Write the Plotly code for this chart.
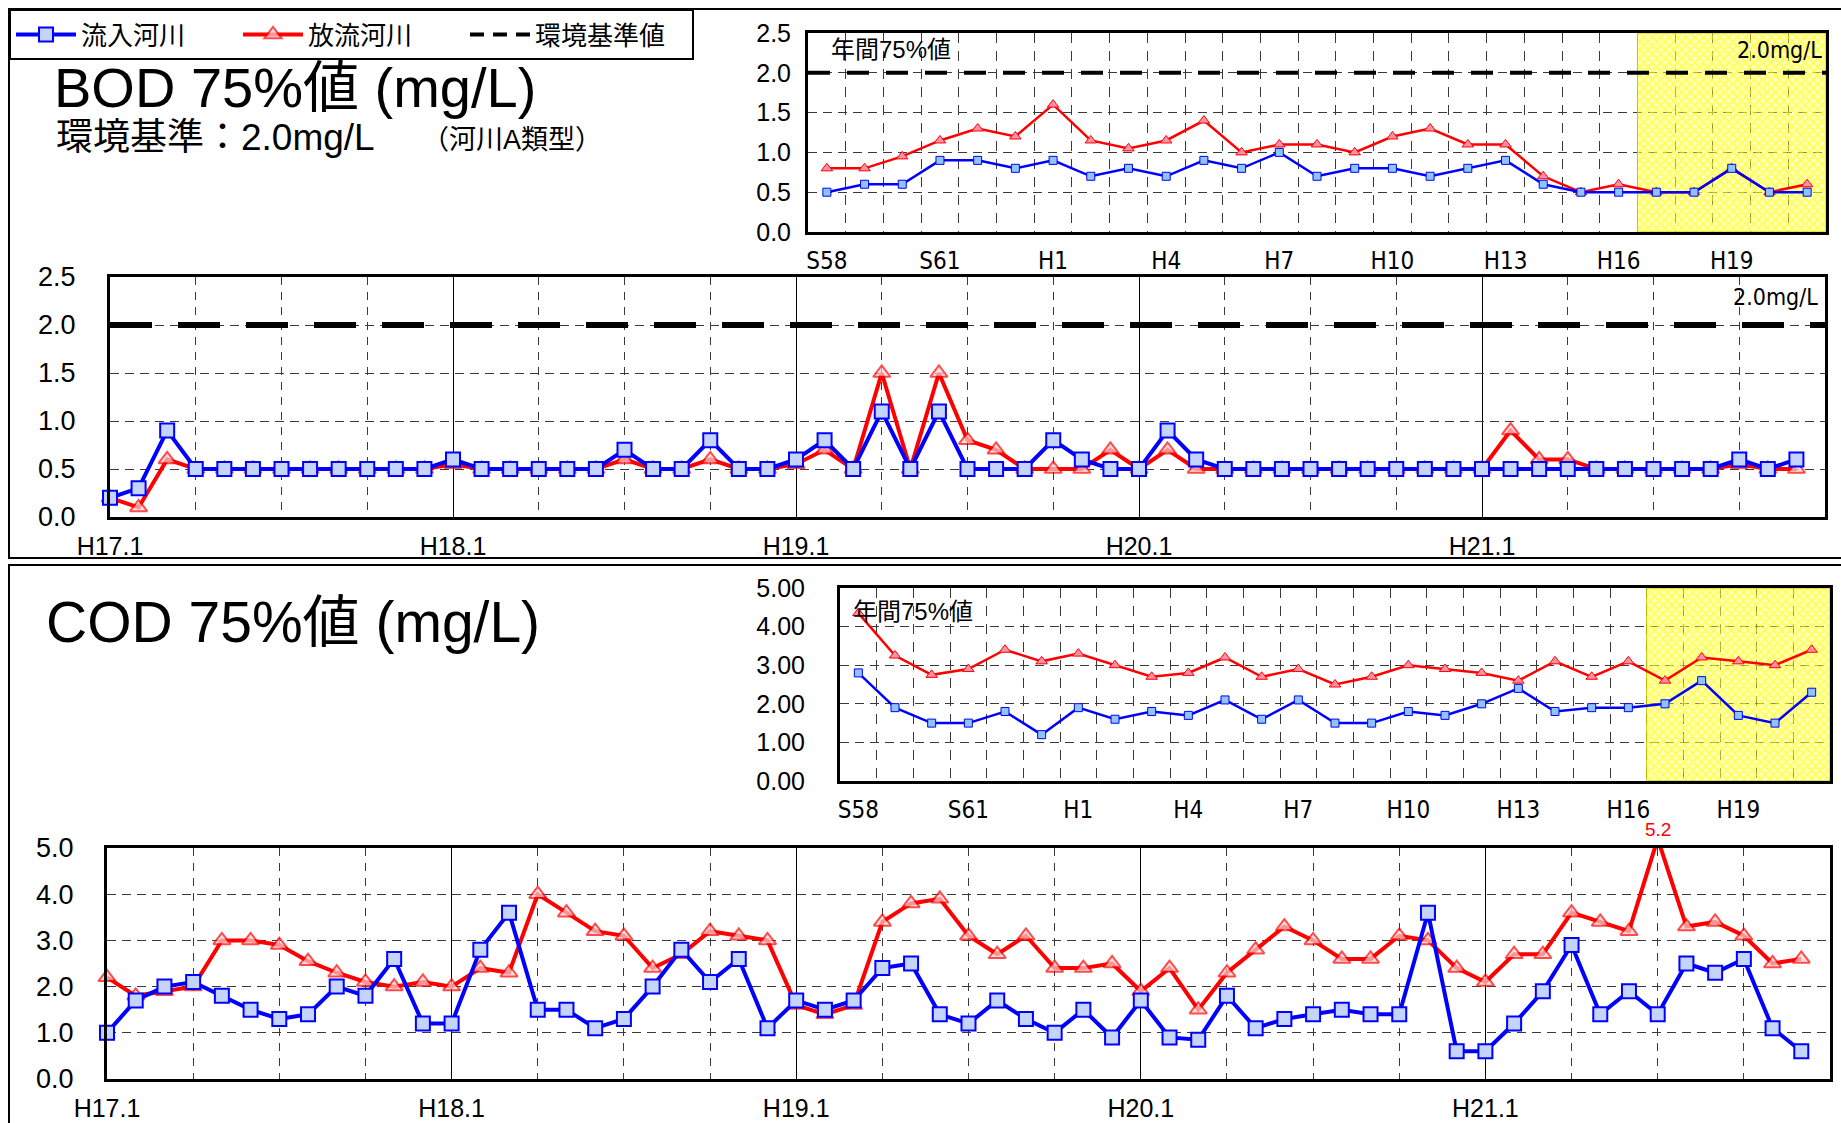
import plotly.graph_objects as go

# ---------------- data ----------------
# annual 75% values, S58 .. H21
year_labels = ["S58", "S59", "S60", "S61", "S62", "S63",
               "H1", "H2", "H3", "H4", "H5", "H6", "H7", "H8", "H9", "H10",
               "H11", "H12", "H13", "H14", "H15", "H16", "H17", "H18", "H19", "H20", "H21"]
bod_year_in = [0.5, 0.6, 0.6, 0.9, 0.9, 0.8, 0.9, 0.7, 0.8, 0.7, 0.9, 0.8, 1.0, 0.7,
               0.8, 0.8, 0.7, 0.8, 0.9, 0.6, 0.5, 0.5, 0.5, 0.5, 0.8, 0.5, 0.5]
bod_year_out = [0.8, 0.8, 0.95, 1.15, 1.3, 1.2, 1.6, 1.15, 1.05, 1.15, 1.4, 1.0, 1.1, 1.1,
                1.0, 1.2, 1.3, 1.1, 1.1, 0.7, 0.5, 0.6, 0.5, 0.5, 0.8, 0.5, 0.6]
cod_year_in = [2.8, 1.9, 1.5, 1.5, 1.8, 1.2, 1.9, 1.6, 1.8, 1.7, 2.1, 1.6, 2.1, 1.5,
               1.5, 1.8, 1.7, 2.0, 2.4, 1.8, 1.9, 1.9, 2.0, 2.6, 1.7, 1.5, 2.3]
cod_year_out = [4.35, 3.25, 2.75, 2.9, 3.4, 3.1, 3.3, 3.0, 2.7, 2.8, 3.2, 2.7, 2.9, 2.5,
                2.7, 3.0, 2.9, 2.8, 2.6, 3.1, 2.7, 3.1, 2.6, 3.2, 3.1, 3.0, 3.4]
year_tick_step = 3
highlight_first = "H17"   # shaded period of the annual charts

# monthly values, H17.1 .. H21.12
month_year_labels = ["H17.1", "H18.1", "H19.1", "H20.1", "H21.1"]
bod_month_in = [0.2, 0.3, 0.9, 0.5, 0.5, 0.5, 0.5, 0.5, 0.5, 0.5, 0.5, 0.5,
                0.6, 0.5, 0.5, 0.5, 0.5, 0.5, 0.7, 0.5, 0.5, 0.8, 0.5, 0.5,
                0.6, 0.8, 0.5, 1.1, 0.5, 1.1, 0.5, 0.5, 0.5, 0.8, 0.6, 0.5,
                0.5, 0.9, 0.6, 0.5, 0.5, 0.5, 0.5, 0.5, 0.5, 0.5, 0.5, 0.5,
                0.5, 0.5, 0.5, 0.5, 0.5, 0.5, 0.5, 0.5, 0.5, 0.6, 0.5, 0.6]
bod_month_out = [0.2, 0.1, 0.6, 0.5, 0.5, 0.5, 0.5, 0.5, 0.5, 0.5, 0.5, 0.5,
                 0.55, 0.5, 0.5, 0.5, 0.5, 0.5, 0.6, 0.5, 0.5, 0.6, 0.5, 0.5,
                 0.55, 0.7, 0.5, 1.5, 0.5, 1.5, 0.8, 0.7, 0.5, 0.5, 0.5, 0.7,
                 0.5, 0.7, 0.5, 0.5, 0.5, 0.5, 0.5, 0.5, 0.5, 0.5, 0.5, 0.5,
                 0.5, 0.9, 0.6, 0.6, 0.5, 0.5, 0.5, 0.5, 0.5, 0.55, 0.5, 0.5]
cod_month_in = [1.0, 1.7, 2.0, 2.1, 1.8, 1.5, 1.3, 1.4, 2.0, 1.8, 2.6, 1.2,
                1.2, 2.8, 3.6, 1.5, 1.5, 1.1, 1.3, 2.0, 2.8, 2.1, 2.6, 1.1,
                1.7, 1.5, 1.7, 2.4, 2.5, 1.4, 1.2, 1.7, 1.3, 1.0, 1.5, 0.9,
                1.7, 0.9, 0.85, 1.8, 1.1, 1.3, 1.4, 1.5, 1.4, 1.4, 3.6, 0.6,
                0.6, 1.2, 1.9, 2.9, 1.4, 1.9, 1.4, 2.5, 2.3, 2.6, 1.1, 0.6]
cod_month_out = [2.2, 1.8, 1.9, 2.0, 3.0, 3.0, 2.9, 2.55, 2.3, 2.1, 2.0, 2.1,
                 2.0, 2.4, 2.3, 4.0, 3.6, 3.2, 3.1, 2.4, 2.7, 3.2, 3.1, 3.0,
                 1.6, 1.4, 1.6, 3.4, 3.8, 3.9, 3.1, 2.7, 3.1, 2.4, 2.4, 2.5,
                 1.9, 2.4, 1.5, 2.3, 2.8, 3.3, 3.0, 2.6, 2.6, 3.1, 3.0, 2.4,
                 2.1, 2.7, 2.7, 3.6, 3.4, 3.2, 5.2, 3.3, 3.4, 3.1, 2.5, 2.6]

bod_standard = 2.0
series_names = ["流入河川", "放流河川", "環境基準値"]

# ---------------- styling ----------------
W, H = 1841, 1123
FONT = "Liberation Sans, Noto Sans CJK JP, sans-serif"
NARROW = "Liberation Sans Narrow, DejaVu Sans Condensed, Liberation Sans, Noto Sans CJK JP, sans-serif"
BLUE, RED = "#0000FF", "#FF0000"
GRID = "#3a3a3a"
BOD_TOP, COD_TOP = 2.5, 5.0


def px_x(a, b):
    return [a / W, b / W]


def px_y(top, bottom):
    return [1 - bottom / H, 1 - top / H]


n_year = len(year_labels)
n_month = len(bod_month_in)
yx = list(range(n_year))
mx = list(range(n_month))
hl_start = year_labels.index(highlight_first)

fig = go.Figure()


def add_year_series(xa, ya, vin, vout):
    fig.add_trace(go.Scatter(
        x=yx, y=vout, xaxis=xa, yaxis=ya, mode="lines+markers", showlegend=False,
        name=series_names[1], line=dict(color=RED, width=2.5),
        marker=dict(symbol="triangle-up", size=10, color="#FF8FA6",
                    line=dict(color=RED, width=1))))
    fig.add_trace(go.Scatter(
        x=yx, y=vin, xaxis=xa, yaxis=ya, mode="lines+markers", showlegend=False,
        name=series_names[0], line=dict(color=BLUE, width=2.5),
        marker=dict(symbol="square", size=8, color="#8EC4F6",
                    line=dict(color=BLUE, width=1))))


def add_month_series(xa, ya, vin, vout, legend, ymax):
    # points beyond the axis top get no marker
    sizes = [0 if v > ymax else 15 for v in vout]
    fig.add_trace(go.Scatter(
        x=mx, y=vout, xaxis=xa, yaxis=ya, mode="lines+markers", showlegend=legend,
        legendrank=2, name=series_names[1], cliponaxis=False,
        line=dict(color=RED, width=4),
        marker=dict(symbol="triangle-up", size=sizes, color="#FBD3D3",
                    line=dict(color=RED, width=2))))
    fig.add_trace(go.Scatter(
        x=mx, y=vin, xaxis=xa, yaxis=ya, mode="lines+markers", showlegend=legend,
        legendrank=1, name=series_names[0], cliponaxis=False,
        line=dict(color=BLUE, width=4),
        marker=dict(symbol="square", size=14, color="#C4D4FC",
                    line=dict(color=BLUE, width=2))))
    # value label for points above the axis top
    for i, v in enumerate(vout):
        if v > ymax:
            fig.add_annotation(x=i, y=v / ymax, xref=xa, yref=f"{ya} domain",
                               text=f"{v:.1f}", showarrow=False, yshift=22,
                               font=dict(color=RED, size=19, family=FONT))


# environmental standard (BOD)
fig.add_trace(go.Scatter(
    x=[-0.5, n_year - 0.5], y=[bod_standard] * 2, xaxis="x", yaxis="y", mode="lines",
    showlegend=False, name=series_names[2],
    line=dict(color="black", width=4, dash="22px,17px")))
fig.add_trace(go.Scatter(
    x=[0, n_month], y=[bod_standard] * 2, xaxis="x2", yaxis="y2", mode="lines",
    showlegend=False, name=series_names[2], cliponaxis=False,
    line=dict(color="black", width=6, dash="42px,26px")))
# legend entry for the standard line
fig.add_trace(go.Scatter(
    x=[None], y=[None], xaxis="x2", yaxis="y2", mode="lines", showlegend=True,
    legendrank=3, name=series_names[2], line=dict(color="black", width=4, dash="14px,9px")))

add_year_series("x", "y", bod_year_in, bod_year_out)
add_month_series("x2", "y2", bod_month_in, bod_month_out, True, BOD_TOP)
add_year_series("x3", "y3", cod_year_in, cod_year_out)
add_month_series("x4", "y4", cod_month_in, cod_month_out, False, COD_TOP)

# hatched highlight of the recent years (drawn over the lines)
hl_width = n_year - hl_start
for xa, ya, top in (("x", "y", BOD_TOP), ("x3", "y3", COD_TOP)):
    fig.add_trace(go.Bar(
        x=[hl_start - 0.5 + hl_width / 2], y=[top], width=[hl_width], base=0,
        xaxis=xa, yaxis=ya, showlegend=False, hoverinfo="skip",
        marker=dict(color="rgba(255,255,0,0.5)",
                    line=dict(color="#C8C800", width=1),
                    pattern=dict(shape="x", fgcolor="#FFFF00",
                                 bgcolor="rgba(255,255,110,0.4)",
                                 size=6, solidity=0.6, fillmode="overlay"))))


def year_xaxis(domain, anchor):
    return dict(domain=domain, anchor=anchor, range=[-0.5, n_year - 0.5],
                tickmode="array", tickvals=yx[::year_tick_step],
                ticktext=year_labels[::year_tick_step], automargin=False,
                showgrid=False, zeroline=False, showline=True, linewidth=3,
                linecolor="black", mirror=True, ticks="",
                tickfont=dict(family=NARROW, size=24, color="black"),
                ticklabelstandoff=5,
                minor=dict(tickmode="array", tickvals=[k + 0.5 for k in range(n_year - 1)],
                           showgrid=True, gridcolor=GRID, gridwidth=1, griddash="10px,8px"))


def month_xaxis(domain, anchor):
    return dict(domain=domain, anchor=anchor, range=[0, n_month],
                tickmode="array", tickvals=list(range(0, n_month, 12)),
                ticktext=month_year_labels, automargin=False,
                showgrid=True, gridcolor="black", gridwidth=1, zeroline=False,
                showline=True, linewidth=3, linecolor="black", mirror=True, ticks="",
                tickfont=dict(family=FONT, size=25, color="black"),
                ticklabelstandoff=5,
                minor=dict(tickmode="array", tickvals=list(range(3, n_month, 3)),
                           showgrid=True, gridcolor=GRID, gridwidth=1, griddash="8px,7px"))


def value_yaxis(domain, anchor, top, step, fmt, standoff, size):
    return dict(domain=domain, anchor=anchor, range=[0, top], dtick=step, tick0=0,
                tickformat=fmt, showgrid=True, gridcolor=GRID, gridwidth=1,
                griddash="9px,6px", zeroline=False, showline=True, linewidth=3,
                linecolor="black", mirror=True, ticks="", automargin=False,
                tickfont=dict(family=FONT, size=size, color="black"),
                ticklabelstandoff=standoff)


fig.update_layout(
    width=W, height=H, margin=dict(l=0, r=0, t=0, b=0, autoexpand=False),
    paper_bgcolor="white", plot_bgcolor="white", barmode="overlay",
    xaxis=year_xaxis(px_x(808, 1826), "y"),
    yaxis=value_yaxis(px_y(33, 232), "x", BOD_TOP, 0.5, ".1f", 9, 25),
    xaxis2=month_xaxis(px_x(110, 1825), "y2"),
    yaxis2=value_yaxis(px_y(277, 517), "x2", BOD_TOP, 0.5, ".1f", 26, 27),
    xaxis3=year_xaxis(px_x(840, 1830), "y3"),
    yaxis3=value_yaxis(px_y(588, 781), "x3", COD_TOP, 1.0, ".2f", 27, 25),
    xaxis4=month_xaxis(px_x(107, 1830), "y4"),
    yaxis4=value_yaxis(px_y(848, 1079), "x4", COD_TOP, 1.0, ".1f", 25, 27),
    legend=dict(orientation="h", x=9 / W, y=1 - 9 / H, xanchor="left", yanchor="top",
                bordercolor="black", borderwidth=2, bgcolor="white",
                font=dict(family=FONT, size=26, color="black"),
                entrywidth=152, entrywidthmode="pixels", itemwidth=60,
                tracegroupgap=0),
    showlegend=True,
)

# section frames
fig.add_shape(type="rect", xref="paper", yref="paper", x0=9 / W, x1=1.02,
              y0=1 - 558 / H, y1=1 - 9 / H, line=dict(color="black", width=2), layer="below")
fig.add_shape(type="rect", xref="paper", yref="paper", x0=9 / W, x1=1.02,
              y0=-0.02, y1=1 - 565 / H, line=dict(color="black", width=2), layer="below")


def note(text, x, y, size, xanchor="left", family=FONT, color="black"):
    fig.add_annotation(text=text, xref="paper", yref="paper", x=x / W, y=1 - y / H,
                       xanchor=xanchor, yanchor="middle", showarrow=False,
                       font=dict(family=family, size=size, color=color))


note("BOD 75%値 (mg/L)", 52, 88, 56)
note("環境基準：2.0mg/L", 54, 138, 37)
note("（河川A類型）", 420, 140, 27)
note("COD 75%値 (mg/L)", 44, 622, 57)
note("年間75%値", 829, 49, 24)
note("年間75%値", 851, 611, 24)
note(f"{bod_standard:.1f}mg/L", 1824, 50, 23, xanchor="right", family=NARROW)
note(f"{bod_standard:.1f}mg/L", 1820, 297, 23, xanchor="right", family=NARROW)

fig.write_html("out.html")
